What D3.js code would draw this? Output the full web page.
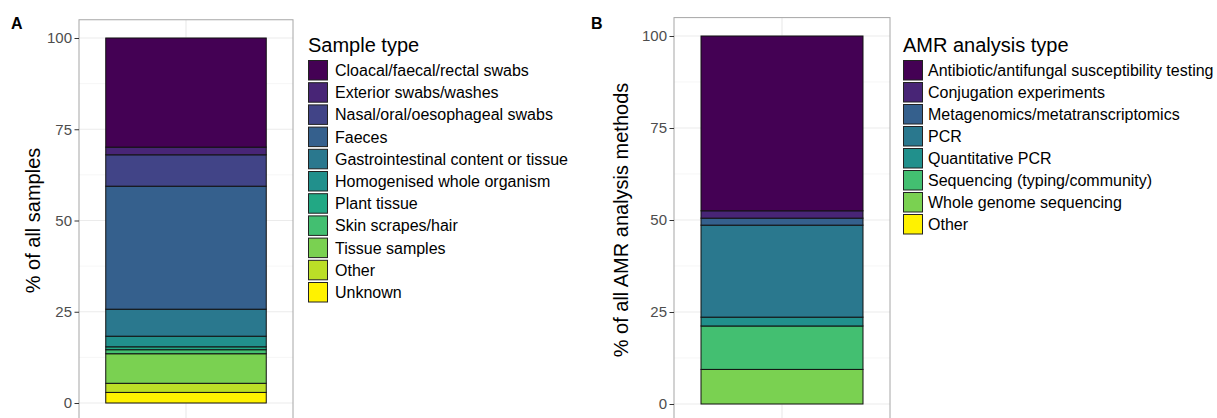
<!DOCTYPE html>
<html>
<head>
<meta charset="utf-8">
<script src="https://cdn.jsdelivr.net/npm/d3@7"></script>
<style>
  body { margin: 0; background: #fff; }
  text { font-family: "Liberation Sans", Arial, sans-serif; }
</style>
</head>
<body>
<div id="vis-container"></div>
<script>
// data (percent of total)
const sampleTypes = ["Cloacal/faecal/rectal swabs", "Exterior swabs/washes", "Nasal/oral/oesophageal swabs",
    "Faeces", "Gastrointestinal content or tissue", "Homogenised whole organism", "Plant tissue",
    "Skin scrapes/hair", "Tissue samples", "Other", "Unknown"];
const sampleValues = [29.9, 2.1, 8.6, 33.7, 7.4, 2.9, 0.8, 1.1, 8.1, 2.5, 2.9];
const sampleColors = ["#440154", "#482576", "#414487", "#35608D", "#2A788E", "#21908C", "#22A884",
    "#43BF71", "#7AD151", "#BBDF27", "#FFF200"];

const amrTypes = ["Antibiotic/antifungal susceptibility testing", "Conjugation experiments",
    "Metagenomics/metatranscriptomics", "PCR", "Quantitative PCR", "Sequencing (typing/community)",
    "Whole genome sequencing", "Other"];
const amrValues = [47.5, 2.0, 1.9, 25.0, 2.4, 11.8, 9.4, 0];
const amrColors = ["#440154", "#482576", "#35608D", "#2A788E", "#21908C", "#43BF71", "#7AD151", "#FFF200"];

const yTicks = [0, 25, 50, 75, 100];
const yMinor = [12.5, 37.5, 62.5, 87.5];

const width = 1217;
const height = 418;

const svg = d3.select("#vis-container")
    .append("svg")
    .attr("width", width)
    .attr("height", height);

function drawPanel(opt) {
    const g = svg.append("g");

    // y scale: ggplot style 5% expansion
    const y = d3.scaleLinear()
        .domain([-5, 105])
        .range([opt.bottom, opt.top]);

    // x: one discrete category at 1, expanded by 0.6
    const x = d3.scaleLinear()
        .domain([0.4, 1.6])
        .range([opt.left, opt.right]);

    // grid
    g.selectAll(".minor")
        .data(yMinor)
        .enter()
        .append("line")
        .attr("x1", opt.left).attr("x2", opt.right)
        .attr("y1", (d) => y(d)).attr("y2", (d) => y(d))
        .attr("stroke", "#F2F2F2")
        .attr("stroke-width", 0.7);
    g.selectAll(".major")
        .data(yTicks)
        .enter()
        .append("line")
        .attr("x1", opt.left).attr("x2", opt.right)
        .attr("y1", (d) => y(d)).attr("y2", (d) => y(d))
        .attr("stroke", "#EBEBEB")
        .attr("stroke-width", 1.2);
    g.append("line")
        .attr("x1", x(1)).attr("x2", x(1))
        .attr("y1", opt.top).attr("y2", opt.bottom)
        .attr("stroke", "#EBEBEB")
        .attr("stroke-width", 1.2);

    // stacked segments, first category on top
    const row = {};
    opt.keys.forEach((k, i) => { row[k] = opt.values[i]; });
    const stacked = d3.stack().keys(opt.keys.slice().reverse())([row]);
    const color = d3.scaleOrdinal().domain(opt.keys).range(opt.colors);

    g.selectAll("rect.seg")
        .data(stacked)
        .enter()
        .append("rect")
        .attr("class", "seg")
        .attr("x", x(0.55))
        .attr("width", x(1.45) - x(0.55))
        .attr("y", (d) => y(d[0][1]))
        .attr("height", (d) => y(d[0][0]) - y(d[0][1]))
        .attr("fill", (d) => color(d.key))
        .attr("stroke", "#111")
        .attr("stroke-width", 1);

    // panel border
    g.append("rect")
        .attr("x", opt.left).attr("y", opt.top)
        .attr("width", opt.right - opt.left)
        .attr("height", opt.bottom - opt.top)
        .attr("fill", "none")
        .attr("stroke", "#A6A6A6")
        .attr("stroke-width", 1);

    // y axis
    const axis = g.append("g")
        .attr("transform", `translate(${opt.left},0)`)
        .call(d3.axisLeft(y).tickValues(yTicks).tickSize(4.5).tickPadding(2.5));
    axis.select(".domain").remove();
    axis.selectAll(".tick line").attr("stroke", "#333");
    axis.selectAll(".tick text")
        .attr("fill", "#4D4D4D")
        .attr("font-size", "15px")
        .attr("font-family", "Liberation Sans, Arial, sans-serif");

    g.append("text")
        .attr("transform", `translate(${opt.titleX},${(opt.top + opt.bottom) / 2}) rotate(-90)`)
        .attr("text-anchor", "middle")
        .attr("font-size", "20px")
        .attr("fill", "#000")
        .text(opt.yTitle);

    // panel letter
    g.append("text")
        .attr("x", opt.letterX)
        .attr("y", 29)
        .attr("font-size", "16px")
        .attr("font-weight", "bold")
        .text(opt.letter);

    // legend
    const lg = g.append("g")
        .attr("transform", `translate(${opt.legendX},0)`);
    lg.append("text")
        .attr("x", 0)
        .attr("y", 52)
        .attr("font-size", "20px")
        .text(opt.legendTitle);
    const items = lg.selectAll("g.item")
        .data(opt.keys)
        .enter()
        .append("g")
        .attr("class", "item")
        .attr("transform", (d, i) => `translate(0,${60 + i * opt.pitch})`);
    items.append("rect")
        .attr("x", 0.5).attr("y", 0.5)
        .attr("width", 19).attr("height", 19.5)
        .attr("fill", (d) => color(d))
        .attr("stroke", "#222")
        .attr("stroke-width", 1);
    items.append("text")
        .attr("x", opt.legendTextDx)
        .attr("y", 16)
        .attr("font-size", "16px")
        .text((d) => d);
}

drawPanel({
    keys: sampleTypes, values: sampleValues, colors: sampleColors,
    left: 79, right: 293, top: 19.75, bottom: 421.25,
    titleX: 40, yTitle: "% of all samples",
    letter: "A", letterX: 11,
    legendX: 308, legendTitle: "Sample type", legendTextDx: 27, pitch: 22.2
});

drawPanel({
    keys: amrTypes, values: amrValues, colors: amrColors,
    left: 674, right: 890, top: 17.6, bottom: 422.4,
    titleX: 628, yTitle: "% of all AMR analysis methods",
    letter: "B", letterX: 591,
    legendX: 903, legendTitle: "AMR analysis type", legendTextDx: 25, pitch: 22
});
</script>
</body>
</html>
